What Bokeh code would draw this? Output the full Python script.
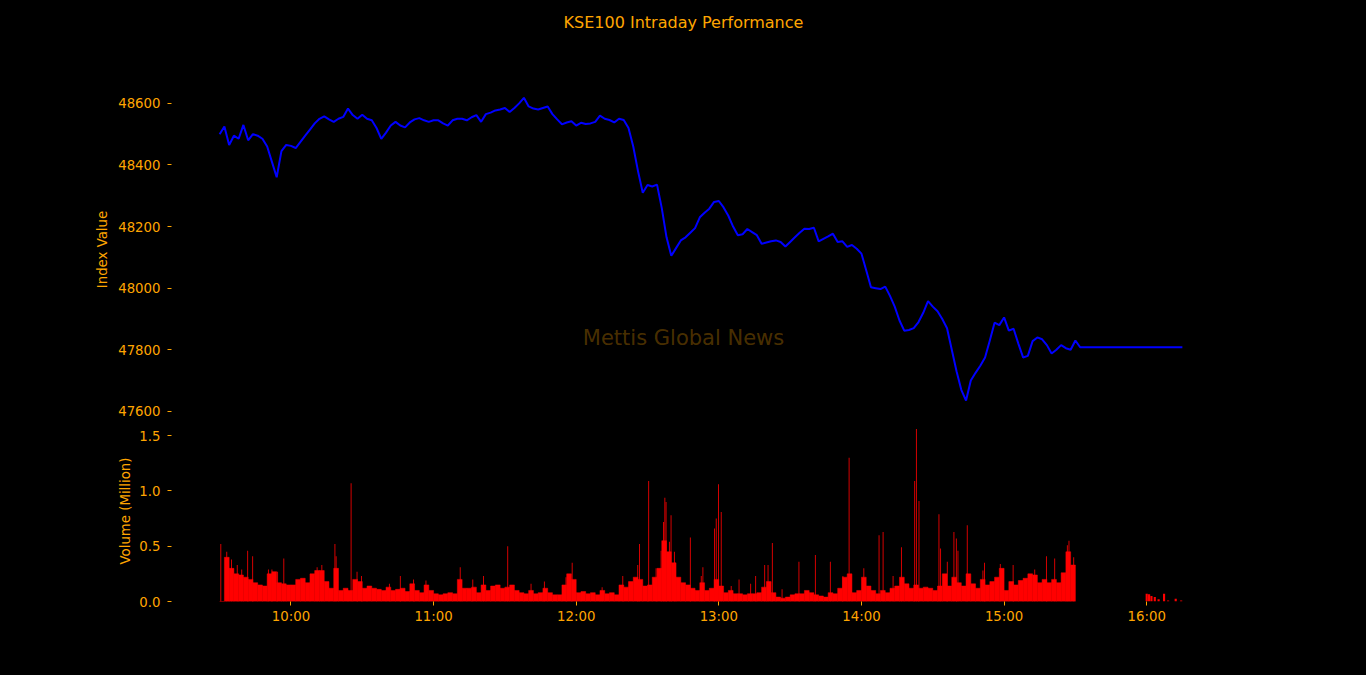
from datetime import datetime, timedelta

from bokeh.plotting import figure
from bokeh.layouts import column
from bokeh.models import Range1d, FixedTicker, DatetimeTickFormatter, NumeralTickFormatter, Label
from bokeh.embed import file_html
from bokeh.resources import INLINE

# ---------------- data ----------------
TITLE = "KSE100 Intraday Performance"
WATERMARK = "Mettis Global News"
SESSION_START = datetime(2021, 1, 4, 9, 30)

# KSE100 index, minutes after 09:30
index_minutes = list(range(0, 361, 2)) + [362, 405]
index_values = [
    48500, 48525, 48465, 48495, 48485, 48530, 48480, 48500, 48495, 48485,
    48460, 48410, 48360, 48445, 48465, 48462, 48455, 48475, 48495, 48515,
    48535, 48550, 48558, 48548, 48540, 48550, 48556, 48583, 48562, 48550,
    48563, 48550, 48545, 48520, 48485, 48505, 48528, 48540, 48528, 48522,
    48538, 48548, 48552, 48545, 48540, 48545, 48545, 48535, 48528, 48545,
    48550,
    48550, 48545, 48555, 48562, 48540, 48565, 48570, 48577, 48580, 48585,
    48572, 48585, 48600, 48618, 48590, 48583, 48580, 48585, 48590, 48565,
    48548, 48532, 48538, 48542, 48528, 48537, 48533, 48535, 48540, 48560,
    48550, 48546, 48538, 48550, 48546, 48520, 48460, 48380, 48310, 48335,
    48330, 48336, 48260, 48165, 48105, 48130, 48155, 48165, 48180, 48195,
    48230, 48245,
    48258, 48280, 48283, 48262, 48235, 48200, 48172, 48175, 48192, 48182,
    48172, 48144, 48148, 48152, 48155, 48150, 48135, 48150, 48165, 48180,
    48193, 48192, 48196, 48152, 48160, 48168, 48177, 48150, 48152, 48134,
    48140, 48128, 48112, 48058, 48003, 48000, 47997, 48005, 47975, 47940,
    47895, 47862, 47864, 47870, 47890, 47920, 47958, 47940, 47925, 47900,
    47870,
    47800, 47730, 47670, 47635, 47700, 47725, 47748, 47775, 47830, 47888,
    47880, 47905, 47862, 47868, 47820, 47775, 47780, 47828, 47840, 47834,
    47815, 47788, 47800, 47815, 47805, 47800, 47830,
    47808, 47808,
]

# traded volume (million shares) in 2-minute buckets starting at these minutes
volume_minutes = list(range(0, 360, 2))
volume_million = [
    0.00, 0.40, 0.30, 0.25, 0.24, 0.22, 0.20, 0.17, 0.15, 0.14,
    0.25, 0.27, 0.17, 0.16, 0.15, 0.15, 0.20, 0.21, 0.17, 0.25,
    0.28, 0.28, 0.18, 0.12, 0.30, 0.10, 0.12, 0.10, 0.20, 0.18,
    0.12, 0.14, 0.12, 0.11, 0.10, 0.13, 0.10, 0.11, 0.12, 0.09,
    0.16, 0.10, 0.08, 0.15, 0.10, 0.07, 0.06, 0.07, 0.08, 0.07,
    0.20, 0.12, 0.12, 0.13, 0.08, 0.15, 0.10, 0.14, 0.15, 0.12,
    0.13, 0.15, 0.10, 0.08, 0.07, 0.10, 0.07, 0.08, 0.12, 0.08,
    0.06, 0.06, 0.15, 0.25, 0.20, 0.08, 0.09, 0.07, 0.08, 0.06,
    0.10, 0.07, 0.08, 0.06, 0.15, 0.13, 0.18, 0.22, 0.20, 0.14,
    0.15, 0.22, 0.30, 0.55, 0.45, 0.35, 0.22, 0.17, 0.15, 0.12,
    0.10, 0.17, 0.10, 0.12, 0.20, 0.14, 0.08, 0.10, 0.07, 0.07,
    0.06, 0.07, 0.07, 0.08, 0.13, 0.18, 0.08, 0.04, 0.03, 0.04,
    0.06, 0.07, 0.07, 0.10, 0.08, 0.06, 0.05, 0.04, 0.08, 0.07,
    0.12, 0.22, 0.25, 0.08, 0.10, 0.22, 0.14, 0.10, 0.07, 0.10,
    0.08, 0.12, 0.14, 0.22, 0.16, 0.12, 0.15, 0.12, 0.13, 0.12,
    0.10, 0.14, 0.25, 0.14, 0.22, 0.17, 0.14, 0.25, 0.16, 0.12,
    0.20, 0.15, 0.18, 0.22, 0.30, 0.10, 0.18, 0.15, 0.19, 0.21,
    0.25, 0.24, 0.17, 0.20, 0.17, 0.20, 0.17, 0.26, 0.45, 0.33,
]

# individual large prints (minute after 09:30, million shares)
trade_minutes = [
    0.5, 3, 5, 7.4, 9.3, 11.8, 13.9, 20.5, 22, 24.4, 27, 41, 43, 48.5, 49,
    55.3, 57.8, 59.7, 71.4, 76, 81.6, 86.8, 101.2,
    106.5, 111, 121.2, 131, 136.6, 145.7, 148.3, 160.9, 169.6, 175.9, 176.6,
    180.5, 183.6, 185.7, 186.7, 187.3, 187.8, 189.2, 189.9, 191.3, 198, 202.6,
    203.3, 208.2, 208.9, 209.9, 211, 215.2, 218.5, 223.4, 225.5, 229.3, 230.7,
    232.5, 236.6, 243.7, 250.6, 256.9, 262.2, 264.8, 271, 277.4, 279.1, 283.3,
    286.8, 292.4, 293.1, 294.2, 302.6, 303.3,
    306.1, 308.9, 309.9, 310.6, 314.5, 321.1, 321.8, 328.4, 333.8, 342.9,
    347.8, 351.3, 356.6, 357.3, 359.3,
]
trade_million = [
    0.52, 0.45, 0.38, 0.33, 0.29, 0.46, 0.41, 0.29, 0.29, 0.27, 0.39, 0.31, 0.33, 0.52, 0.41,
    1.07, 0.27, 0.23, 0.16, 0.23, 0.20, 0.19, 0.31,
    0.20, 0.23, 0.50, 0.16, 0.18, 0.22, 0.35, 0.13, 0.23, 0.33, 0.52,
    1.09, 0.30, 0.46, 0.72, 0.94, 0.90, 0.54, 0.78, 0.45, 0.58, 0.23,
    0.31, 0.66, 0.75, 1.06, 0.81, 0.14, 0.20, 0.16, 0.23, 0.33, 0.33,
    0.53, 0.11, 0.36, 0.42, 0.36, 0.23, 1.30, 0.30, 0.60, 0.63, 0.23,
    0.49, 1.09, 1.56, 0.91, 0.79, 0.48,
    0.36, 0.63, 0.57, 0.46, 0.69, 0.28, 0.35, 0.34, 0.33, 0.29,
    0.41, 0.39, 0.51, 0.55, 0.40,
]

# post-close prints
after_minutes = [390, 391, 392, 393.4, 395, 397.3, 399, 402.2, 404.5]
after_million = [0.07, 0.065, 0.05, 0.04, 0.02, 0.07, 0.01, 0.025, 0.01]

index_ticks = [47600, 47800, 48000, 48200, 48400, 48600]
volume_ticks = [0.0, 0.5, 1.0, 1.5]
hour_labels = ["10:00", "11:00", "12:00", "13:00", "14:00", "15:00", "16:00"]

# ---------------- helpers ----------------
EPOCH = datetime(1970, 1, 1)
MIN_MS = 60 * 1000.0


def at(m):
    return SESSION_START + timedelta(minutes=m)


def ms(dt):
    return (dt - EPOCH).total_seconds() * 1000.0


ORANGE = "orange"
FONT = "DejaVu Sans"
W, H = 1366, 675
LEFT, RIGHT = 171, 136          # frame spans x = 171 .. 1230
FRAME_W = W - LEFT - RIGHT
CENTER_FRAC = (W / 2 - LEFT) / FRAME_W   # figure centre as a fraction of the frame
TITLE_H = 44                    # title strip, title centred at y = 22
TOP_FRAME_TOP, TOP_FRAME_H = 81, 336
TOP_FIG_BOTTOM = 420
BOT_FRAME_H = 181

x_start = at(-20.25)
x_end = at(425.25)
x_range = Range1d(start=x_start, end=x_end)

hour_ticks_ms = [
    ms(datetime(SESSION_START.year, SESSION_START.month, SESSION_START.day,
                int(h.split(":")[0]), int(h.split(":")[1])))
    for h in hour_labels
]


def style_y(axis, label, label_standoff):
    axis.axis_label = label
    axis.axis_label_text_color = ORANGE
    axis.axis_label_text_font = FONT
    axis.axis_label_text_font_size = "13.3px"
    axis.axis_label_text_font_style = "normal"
    axis.axis_label_standoff = label_standoff
    axis.major_label_text_color = ORANGE
    axis.major_label_text_font = FONT
    axis.major_label_text_font_size = "13.3px"
    axis.major_label_standoff = 7
    axis.major_tick_line_color = ORANGE
    axis.major_tick_out = 4
    axis.major_tick_in = 0
    axis.minor_tick_line_color = None
    axis.axis_line_color = None


# ---------------- title strip ----------------
pt = figure(width=W, height=TITLE_H, x_range=Range1d(0, 1), y_range=Range1d(0, 1),
            x_axis_location=None, y_axis_location=None,
            output_backend="svg", toolbar_location=None,
            min_border_left=LEFT, min_border_right=RIGHT,
            min_border_top=0, min_border_bottom=0,
            background_fill_color="black", border_fill_color="black",
            outline_line_color=None)
pt.grid.visible = False
pt.add_layout(Label(x=CENTER_FRAC, y=0.5, text=TITLE, text_color=ORANGE, text_font=FONT,
                    text_font_size="16px", text_align="center", text_baseline="middle"))

# ---------------- top: index ----------------
y_index = Range1d(47580, 48671)
p1 = figure(width=W, height=TOP_FIG_BOTTOM - TITLE_H, x_range=x_range, y_range=y_index,
            x_axis_type="datetime", x_axis_location=None,
            output_backend="svg", toolbar_location=None,
            min_border_left=LEFT, min_border_right=RIGHT,
            min_border_top=TOP_FRAME_TOP - TITLE_H,
            min_border_bottom=TOP_FIG_BOTTOM - TOP_FRAME_TOP - TOP_FRAME_H,
            background_fill_color="black", border_fill_color="black",
            outline_line_color=None)
p1.grid.visible = False

style_y(p1.yaxis[0], "Index Value", 5)
p1.yaxis[0].ticker = FixedTicker(ticks=index_ticks)
p1.yaxis[0].formatter = NumeralTickFormatter(format="0")

p1.line([at(m) for m in index_minutes], index_values,
        line_color="blue", line_width=2)

# watermark centred on the whole figure
center_x = ms(x_start) + CENTER_FRAC * (ms(x_end) - ms(x_start))
wm_y = y_index.start + (TOP_FRAME_TOP + TOP_FRAME_H - 337.5) / TOP_FRAME_H * (y_index.end - y_index.start)
p1.add_layout(Label(x=center_x, y=wm_y, text=WATERMARK, text_color=ORANGE,
                    text_alpha=0.3, text_font=FONT, text_font_size="21px",
                    text_align="center", text_baseline="middle"))

# ---------------- bottom: volume ----------------
p2 = figure(width=W, height=H - TOP_FIG_BOTTOM, x_range=x_range, y_range=Range1d(0, 1.638),
            x_axis_type="datetime",
            output_backend="svg", toolbar_location=None,
            min_border_left=LEFT, min_border_right=RIGHT,
            min_border_top=0, min_border_bottom=H - TOP_FIG_BOTTOM - BOT_FRAME_H,
            background_fill_color="black", border_fill_color="black",
            outline_line_color=None)
p2.grid.visible = False

p2.vbar(x=[at(m + 1) for m in volume_minutes], top=volume_million,
        width=2 * MIN_MS, bottom=0, fill_color="red",
        line_color="red", line_width=0.5)
p2.vbar(x=[at(m) for m in trade_minutes], top=trade_million,
        width=0.35 * MIN_MS, bottom=0, fill_color="red", line_color=None)
p2.vbar(x=[at(m) for m in after_minutes], top=after_million,
        width=0.9 * MIN_MS, bottom=0, fill_color="red", line_color=None)

style_y(p2.yaxis[0], "Volume (Million)", 3)
p2.yaxis[0].ticker = FixedTicker(ticks=volume_ticks)
p2.yaxis[0].formatter = NumeralTickFormatter(format="0.0")

xa = p2.xaxis[0]
xa.ticker = FixedTicker(ticks=hour_ticks_ms)
xa.formatter = DatetimeTickFormatter(hours="%H:%M", hourmin="%H:%M",
                                     minutes="%H:%M", days="%H:%M")
xa.major_label_text_color = ORANGE
xa.major_label_text_font = FONT
xa.major_label_text_font_size = "13.3px"
xa.major_label_standoff = 3
xa.major_tick_line_color = ORANGE
xa.major_tick_out = 4
xa.major_tick_in = 0
xa.minor_tick_line_color = None
xa.axis_line_color = None

layout = column(pt, p1, p2, spacing=0)

template = """{% block preamble %}<style>html, body { background: #000000; }</style>{% endblock %}"""

open("out.html", "w").write(file_html(layout, INLINE, title=TITLE, template=template))
